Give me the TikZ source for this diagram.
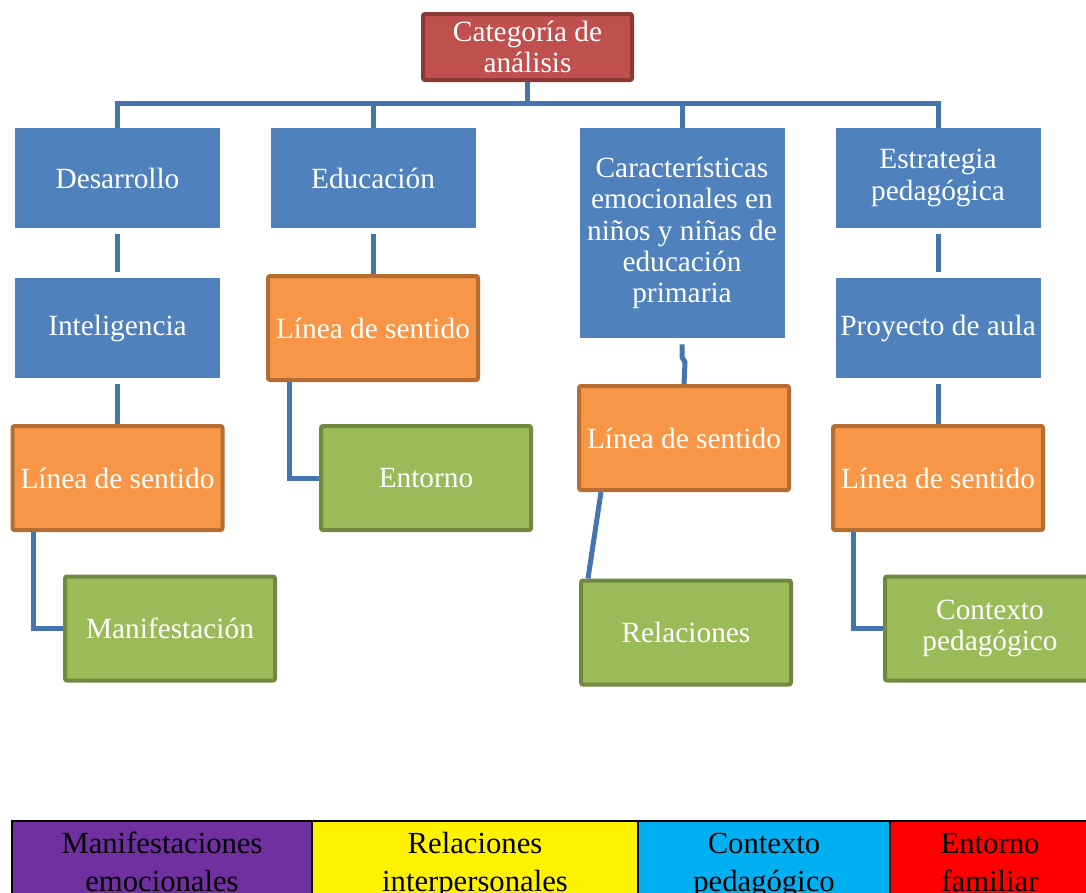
\documentclass[tikz,border=0pt]{standalone}
\usepackage{fontspec}
\setmainfont{Liberation Serif}
\usetikzlibrary{calc, positioning}

\definecolor{catblue}{HTML}{4F81BD}
\definecolor{linkblue}{HTML}{4674B0}
\definecolor{rootfill}{HTML}{C0504D}
\definecolor{rootline}{HTML}{8C3836}
\definecolor{linefill}{HTML}{F79646}
\definecolor{lineline}{HTML}{B66D31}
\definecolor{subfill}{HTML}{9BBB59}
\definecolor{subline}{HTML}{71893F}

\begin{document}
\begin{tikzpicture}[x=0.75pt, y=-0.75pt,
    every node/.style={font=\fontsize{22}{23.5}\selectfont, align=center, text=white, inner sep=0pt},
    rootbox/.style={fill=rootfill, draw=rootline, line width=3pt, rounded corners=1.5pt,
        minimum width=156.75pt, minimum height=49.5pt},
    catbox/.style={fill=catblue, minimum width=153.75pt, minimum height=75pt},
    linebox/.style={fill=linefill, draw=lineline, line width=3pt, rounded corners=1.5pt,
        minimum width=157.5pt, minimum height=78pt},
    subbox/.style={fill=subfill, draw=subline, line width=3pt, rounded corners=1.5pt,
        minimum width=157.5pt, minimum height=78pt},
    link/.style={draw=linkblue, line width=3.75pt},
    legendcell/.style={draw=black, line width=1.5pt, text=black,
        font=\fontsize{23}{28.5}\selectfont, minimum height=66pt}
]
    \useasboundingbox (0,0) rectangle (1086,893);

    % Top of the tree
    \node[rootbox] (root) at (527.5,47) {Categoría de\\análisis};
    \coordinate (bus) at (527.5,103);

    % First row: the four categories
    \node[catbox] (des) at (117.5,178) {Desarrollo};
    \node[catbox] (edu) at (373,178) {Educación};
    \node[catbox, minimum height=157.5pt] (car) at (682,233)
        {Características\\emocionales en\\niños y niñas de\\educación\\primaria};
    \node[catbox] (est) at (938,178) {Estrategia\\pedagógica};

    % Second row
    \node[catbox] (int) at (117.5,328) {Inteligencia};
    \node[linebox] (lined) at (373,328) {Línea de sentido};
    \node[catbox] (pro) at (938,328) {Proyecto de aula};

    % Lines of meaning
    \node[linebox] (lina) at (117.5,478) {Línea de sentido};
    \node[linebox] (linc) at (684,438) {Línea de sentido};
    \node[linebox] (lins) at (938,478) {Línea de sentido};

    % Leaves
    \node[subbox] (man) at (170,628.5) {Manifestación};
    \node[subbox] (ent) at (426,478) {Entorno};
    \node[subbox] (rel) at (686,632.5) {Relaciones};
    \node[subbox] (ctx) at (990,628.5) {Contexto\\pedagógico};

    % Connectors
    \draw[link] (root) -- (bus);
    \foreach \n in {des,edu,car,est}
        \draw[link] (\n.north) |- (bus);
    \draw[link, shorten <=4.5pt, shorten >=4.5pt] (des) -- (int);
    \draw[link, shorten <=4.5pt, shorten >=4.5pt] (est) -- (pro);
    \draw[link, shorten <=4.5pt] (edu) -- (lined);
    \draw[link, shorten <=4.5pt] (int) -- (lina);
    \draw[link, shorten <=4.5pt] (pro) -- (lins);
    \draw[link] ($(car.south)+(0,6)$) -- ++(0,13) -- ++(3,5) -- (linc.north);
    \draw[link] ($(lina.south west)+(23,0)$) |- (man.west);
    \draw[link] ($(lined.south west)+(23,0)$) |- (ent.west);
    \draw[link] ($(lins.south west)+(22,0)$) |- (ctx.west);
    \draw[link] ($(linc.south west)+(24,0)$) -- ($(rel.north west)+(9,0)$);

    % Legend
    \node[legendcell, fill={rgb,255:red,112;green,48;blue,160}, minimum width=225pt] (lgman) at (162,865)
        {\strut Manifestaciones\\\strut emocionales};
    \node[legendcell, fill=yellow, minimum width=244.5pt, right=-1.5pt of lgman] (lgrel)
        {\strut Relaciones\\\strut interpersonales};
    \node[legendcell, fill={rgb,255:red,0;green,176;blue,240}, minimum width=189pt, right=-1.5pt of lgrel] (lgctx)
        {\strut Contexto\\\strut pedagógico};
    \node[legendcell, fill=red, minimum width=150pt, right=-1.5pt of lgctx] (lgent)
        {\strut Entorno\\\strut familiar};
\end{tikzpicture}
\end{document}
